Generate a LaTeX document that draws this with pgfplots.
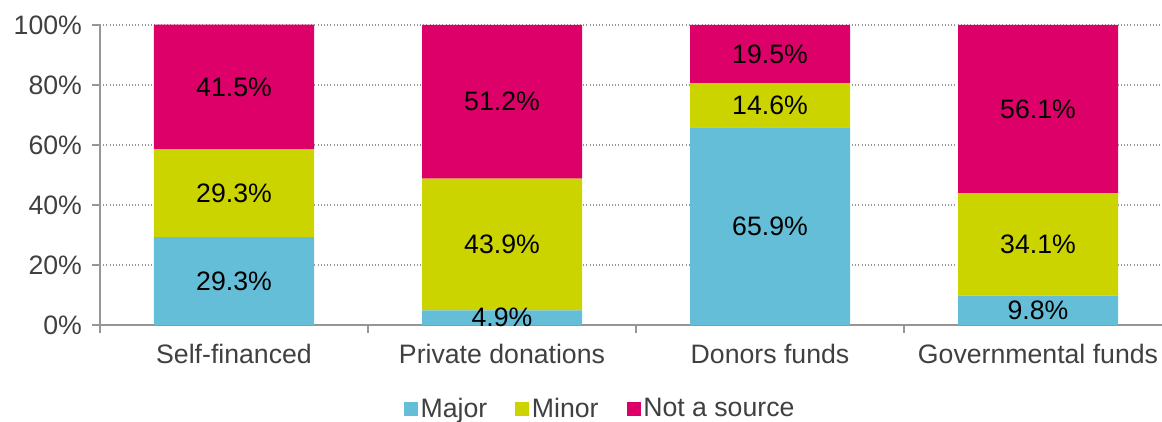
\documentclass[border=0pt]{standalone}
\usepackage{pgfplots}
\pgfplotsset{compat=1.18}
\usepackage{fontspec}
\setmainfont{Liberation Sans}
\definecolor{cmajor}{RGB}{101,190,215}
\definecolor{cminor}{RGB}{204,212,0}
\definecolor{cnot}{RGB}{220,0,104}
\definecolor{axgray}{RGB}{150,150,150}
\definecolor{txtgray}{RGB}{64,64,64}
\begin{document}
\begin{tikzpicture}[x=1pt,y=1pt]
\useasboundingbox (-75,-72) rectangle (796.5,243.75);
\begin{axis}[
  at={(0,0)}, anchor=south west,
  scale only axis, width=796.5pt, height=225pt,
  ybar stacked, bar width=120pt,
  xmin=-0.5, xmax=3.4627, ymin=0, ymax=100,
  clip=false,
  axis x line*=bottom, axis y line*=left,
  axis line style={axgray, line width=1pt, -},
  xtick={-0.5,0.5,1.5,2.5,3.5}, xticklabels={},
  extra x ticks={0,1,2,3},
  extra x tick labels={Self-financed,Private donations,Donors funds,Governmental funds},
  extra x tick style={major tick length=0pt, grid=none, xticklabel style={yshift=-11pt}},
  ytick={0,20,40,60,80,100},
  yticklabel={\pgfmathprintnumber{\tick}\%},
  /pgf/number format/assume math mode=true,
  tick align=outside, major tick length=6pt,
  tick style={axgray, line width=1pt},
  ymajorgrids, grid style={axgray, dotted, line width=0.8pt},
  ticklabel style={font=\fontsize{20}{22}\selectfont, text=txtgray},
  yticklabel style={xshift=-4pt},
  every axis plot/.append style={draw=none},
  point meta=rawy,
  nodes near coords={\pgfmathprintnumber[fixed,fixed zerofill,precision=1]{\pgfplotspointmeta}\%},
  every node near coord/.append style={anchor=center, font=\fontsize{20}{22}\selectfont, text=black},
  legend columns=3,
  legend style={at={(0.4713,-0.279)}, anchor=center, draw=none, fill=none, inner sep=0pt,
    font=\fontsize{20}{22}\selectfont, text=txtgray, nodes={inner sep=2pt},
    /tikz/every even column/.append style={column sep=19pt}},
  legend image code/.code={\fill[#1] (0pt,-5.25pt) rectangle (10.5pt,5.25pt);},
]
\addplot[fill=cmajor] coordinates {(0,29.3) (1,4.9) (2,65.9) (3,9.8)};
\addplot[fill=cminor] coordinates {(0,29.3) (1,43.9) (2,14.6) (3,34.1)};
\addplot[fill=cnot] coordinates {(0,41.5) (1,51.2) (2,19.5) (3,56.1)};
\legend{Major,Minor,Not a source}
\end{axis}
\end{tikzpicture}
\end{document}
